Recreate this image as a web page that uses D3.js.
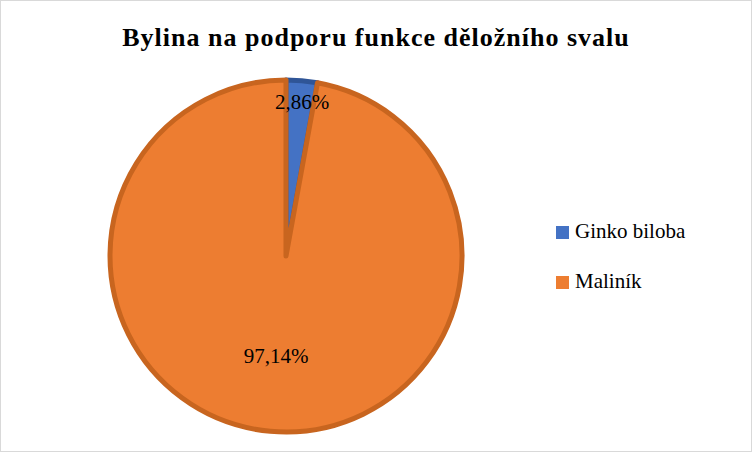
<!DOCTYPE html>
<html><head><meta charset="utf-8">
<script src="https://cdn.jsdelivr.net/npm/d3@7"></script>
<style>body{margin:0;background:#fff}</style></head>
<body><svg id="c" width="752" height="452"></svg>
<script>
const categories=["Ginko biloba","Maliník"];
const values=[2.86,97.14];
const labels=["2,86%","97,14%"];
const colors=["#4472c4","#ed7d31"];
const strokes=["#2f5597","#c8651f"];
const svg=d3.select("#c");
svg.append("rect").attr("x",0.5).attr("y",0.5).attr("width",751).attr("height",451).attr("fill","#fff").attr("stroke","#d9d9d9");
svg.append("text").attr("x",376).attr("y",46).attr("text-anchor","middle")
 .attr("font-family","Liberation Serif").attr("font-weight","bold").attr("font-size",26).attr("letter-spacing",1).text("Bylina na podporu funkce děložního svalu");
const cx=286,cy=256,r=176;
const pie=d3.pie().sort(null)(values);
const arc=d3.arc().innerRadius(0).outerRadius(r);
const g=svg.append("g").attr("transform",`translate(${cx},${cy})`);
g.selectAll("path").data(pie).join("path").attr("d",arc)
 .attr("fill",(d,i)=>colors[i]).attr("stroke",(d,i)=>strokes[i]).attr("stroke-width",5).attr("stroke-linejoin","round");
const lpos=[[16,-152],[-10,102]];
g.selectAll("text.l").data(pie).join("text").attr("class","l")
 .attr("x",(d,i)=>lpos[i][0]).attr("y",(d,i)=>lpos[i][1]).attr("text-anchor","middle").attr("dominant-baseline","middle")
 .attr("font-family","Liberation Serif").attr("font-size",21).text((d,i)=>labels[i]);
const lg=svg.append("g");
categories.forEach((c,i)=>{
 const y=233+i*50;
 lg.append("rect").attr("x",556).attr("y",y-7).attr("width",13).attr("height",13).attr("fill",colors[i]);
 lg.append("text").attr("x",575).attr("y",y).attr("dominant-baseline","middle").attr("font-family","Liberation Serif").attr("font-size",21).text(c);
});
</script></body></html>
